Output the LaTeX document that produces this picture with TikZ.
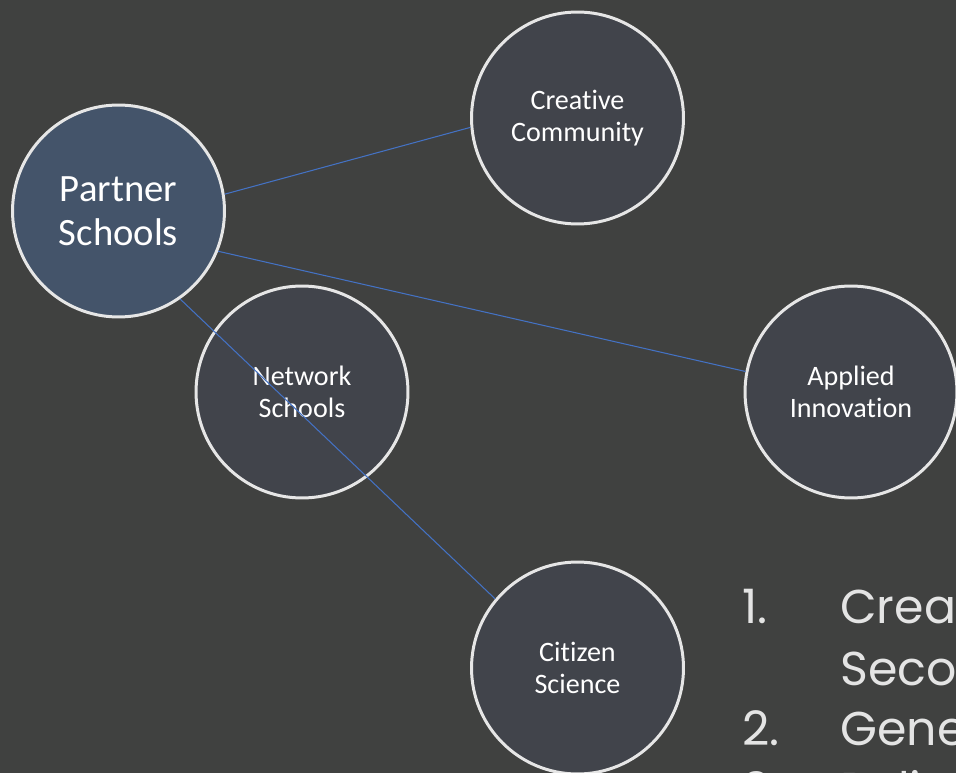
\documentclass[tikz,border=0pt]{standalone}
\usepackage{fontspec}
\setmainfont{Carlito}[Ligatures=NoCommon]
\newfontfamily\listfont{Poppins}
\usetikzlibrary{positioning}
\definecolor{slidebg}{HTML}{404140}
\definecolor{topicfill}{HTML}{41444B}
\definecolor{hubfill}{HTML}{44546A}
\definecolor{ringwhite}{HTML}{E6E6E6}
\definecolor{linkblue}{HTML}{4472C4}
\definecolor{listgray}{HTML}{E4E4E4}
\tikzset{
    hub/.style={
        circle,
        draw=ringwhite,
        line width=1.7pt,
        fill=hubfill,
        minimum size=4.24cm,
        align=center,
        text=white,
        font=\fontsize{22}{25}\selectfont
    },
    topic/.style={
        circle,
        draw=ringwhite,
        line width=1.7pt,
        fill=topicfill,
        minimum size=4.24cm,
        align=center,
        text=white,
        font=\fontsize{16}{18}\selectfont
    },
    link/.style={
        draw=linkblue,
        line width=0.6pt
    },
    listtext/.style={
        anchor=base west,
        inner sep=0pt,
        text=listgray,
        font=\listfont\fontsize{27}{34}\selectfont
    }
}
\begin{document}
\begin{tikzpicture}[x=0.02cm, y=-0.02cm]

    % Background
    \fill[slidebg] (0,0) rectangle (956,773);
    \useasboundingbox (0,0) rectangle (956,773);
    \clip (0,0) rectangle (956,773);

    % Hub
    \node[hub] (partner) at (118.5,211) {Partner\\Schools};

    % Topics
    \node[topic] (creative) at (577.5,118) {Creative\\Community};
    \node[topic] (network) at (302,392) {Network\\Schools};
    \node[topic] (applied) at (851,392) {Applied\\Innovation};
    \node[topic] (citizen) at (577.5,668) {Citizen\\Science};

    % Links
    \draw[link] (partner.9.6) -- (creative.185.4);
    \draw[link] (partner.-22) -- (applied.169);
    \draw[link] (partner.-55.3) -- (citizen.140.7);

    % List
    \node[listtext] (num1) at (742,623) {1.};
    \node[listtext] (item1) at (840,623) {Creat};
    \node[listtext] (item1b) at (840,685) {Seco};
    \node[listtext] (num2) at (742,745) {2.};
    \node[listtext] (item2) at (840,745) {Gene};
    \node[listtext] (num3) at (742,806) {3.};
    \node[listtext] (item3) at (840,806) {Poli};

\end{tikzpicture}
\end{document}
